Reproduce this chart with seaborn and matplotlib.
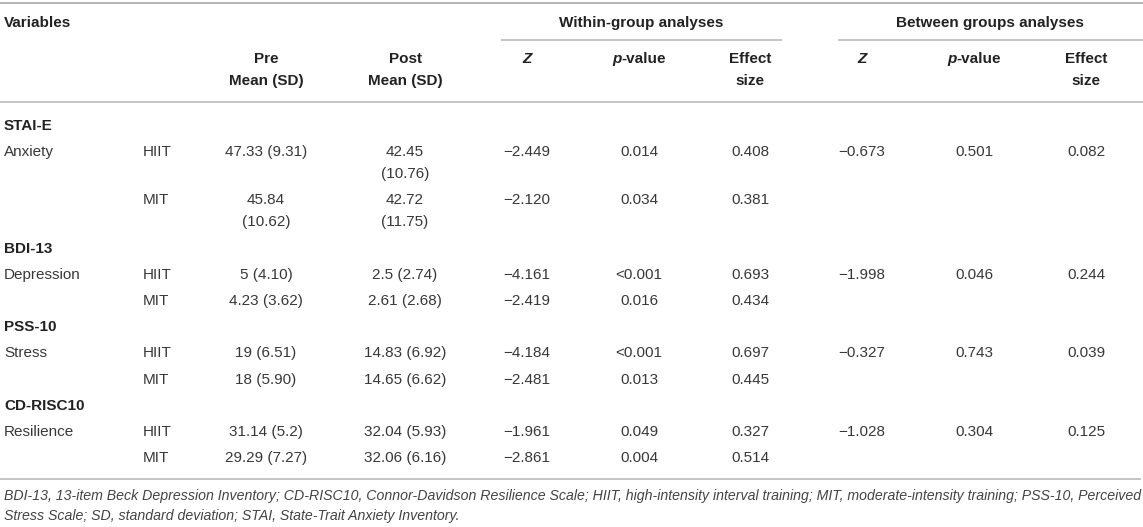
import matplotlib
matplotlib.use("Agg")
import matplotlib.pyplot as plt
import seaborn as sns

# table content
scales = ["STAI-E", "BDI-13", "PSS-10", "CD-RISC10"]
variables = ["Anxiety", "Depression", "Stress", "Resilience"]
groups = ["HIIT", "MIT"]
pre = [["47.33 (9.31)", "45.84\n(10.62)"], ["5 (4.10)", "4.23 (3.62)"],
       ["19 (6.51)", "18 (5.90)"], ["31.14 (5.2)", "29.29 (7.27)"]]
post = [["42.45\n(10.76)", "42.72\n(11.75)"], ["2.5 (2.74)", "2.61 (2.68)"],
        ["14.83 (6.92)", "14.65 (6.62)"], ["32.04 (5.93)", "32.06 (6.16)"]]
within_z = [["\u22122.449", "\u22122.120"], ["\u22124.161", "\u22122.419"],
            ["\u22124.184", "\u22122.481"], ["\u22121.961", "\u22122.861"]]
within_p = [["0.014", "0.034"], ["<0.001", "0.016"], ["<0.001", "0.013"], ["0.049", "0.004"]]
within_es = [["0.408", "0.381"], ["0.693", "0.434"], ["0.697", "0.445"], ["0.327", "0.514"]]
between_z = ["\u22120.673", "\u22121.998", "\u22120.327", "\u22121.028"]
between_p = ["0.501", "0.046", "0.743", "0.304"]
between_es = ["0.082", "0.244", "0.039", "0.125"]
footnote = ["BDI-13, 13-item Beck Depression Inventory; CD-RISC10, Connor-Davidson Resilience Scale; "
            "HIIT, high-intensity interval training; MIT, moderate-intensity training; PSS-10, Perceived",
            "Stress Scale; SD, standard deviation; STAI, State-Trait Anxiety Inventory."]

sns.set_theme(style="white")
plt.rcParams['font.family'] = ['Liberation Sans', 'DejaVu Sans']

W, H = 1143, 527
fig = plt.figure(figsize=(W / 100, H / 100), dpi=100)
ax = fig.add_axes([0, 0, 1, 1])
ax.set_xlim(0, W)
ax.set_ylim(H, 0)
ax.axis('off')

fs = 11
hdr = '#222222'
body = '#383838'
rule = '#b4b4b4'
lw = 1.1

# column positions
x_var, x_grp = 4, 143
x_pre, x_post = 266, 405
x_cols = [527, 639, 750, 862, 974, 1086]
line_gap = 22
row_gap = 26.2

# rules
ax.hlines(3, 0, W, color=rule, lw=1.4)
ax.hlines(40, 501, 782, color=rule, lw=lw)
ax.hlines(40, 838, W, color=rule, lw=lw)
ax.hlines(102, 0, W, color=rule, lw=lw)

# header
ax.text(x_var, 23, "Variables", fontsize=fs, weight='bold', color=hdr, va='center')
ax.text(641, 23, "Within-group analyses", fontsize=fs, weight='bold', color=hdr, ha='center', va='center')
ax.text(990, 23, "Between groups analyses", fontsize=fs, weight='bold', color=hdr, ha='center', va='center')
for x, lab in [(x_pre, "Pre"), (x_post, "Post")]:
    ax.text(x, 59, lab, fontsize=fs, weight='bold', color=hdr, ha='center', va='center')
    ax.text(x, 59 + line_gap, "Mean (SD)", fontsize=fs, weight='bold', color=hdr, ha='center', va='center')

renderer = fig.canvas.get_renderer()
for k in (0, 3):
    ax.text(x_cols[k], 59, "Z", fontsize=fs, weight='bold', style='italic', color=hdr, ha='center', va='center')
    # p-value: italic p + upright -value, centred together
    t1 = ax.text(0, 59, "p", fontsize=fs, weight='bold', style='italic', color=hdr, va='center')
    t2 = ax.text(0, 59, "-value", fontsize=fs, weight='bold', color=hdr, va='center')
    w1 = t1.get_window_extent(renderer).width
    w2 = t2.get_window_extent(renderer).width
    x0 = x_cols[k + 1] - (w1 + w2) / 2
    t1.set_x(x0)
    t2.set_x(x0 + w1)
    ax.text(x_cols[k + 2], 59, "Effect", fontsize=fs, weight='bold', color=hdr, ha='center', va='center')
    ax.text(x_cols[k + 2], 59 + line_gap, "size", fontsize=fs, weight='bold', color=hdr, ha='center', va='center')


def cell(x, y, s, ha='center'):
    for i, part in enumerate(s.split("\n")):
        ax.text(x, y + i * line_gap, part, fontsize=fs, color=body, ha=ha, va='center')


y = 126
for i, sc in enumerate(scales):
    ax.text(x_var, y, sc, fontsize=fs, weight='bold', color=hdr, va='center')
    y += row_gap
    for j, g in enumerate(groups):
        if j == 0:
            cell(x_var, y, variables[i], ha='left')
            cell(x_cols[3], y, between_z[i])
            cell(x_cols[4], y, between_p[i])
            cell(x_cols[5], y, between_es[i])
        cell(x_grp, y, g, ha='left')
        cell(x_pre, y, pre[i][j])
        cell(x_post, y, post[i][j])
        cell(x_cols[0], y, within_z[i][j])
        cell(x_cols[1], y, within_p[i][j])
        cell(x_cols[2], y, within_es[i][j])
        nlines = max(pre[i][j].count("\n"), post[i][j].count("\n"))
        y += row_gap + nlines * line_gap

ax.hlines(479, 0, W - 2, color=rule, lw=lw)
ax.text(x_var, 496, footnote[0], fontsize=10.15, style='italic', color='#444444', va='center')
ax.text(x_var, 516, footnote[1], fontsize=10.15, style='italic', color='#444444', va='center')

fig.savefig("out.png", dpi=100)
